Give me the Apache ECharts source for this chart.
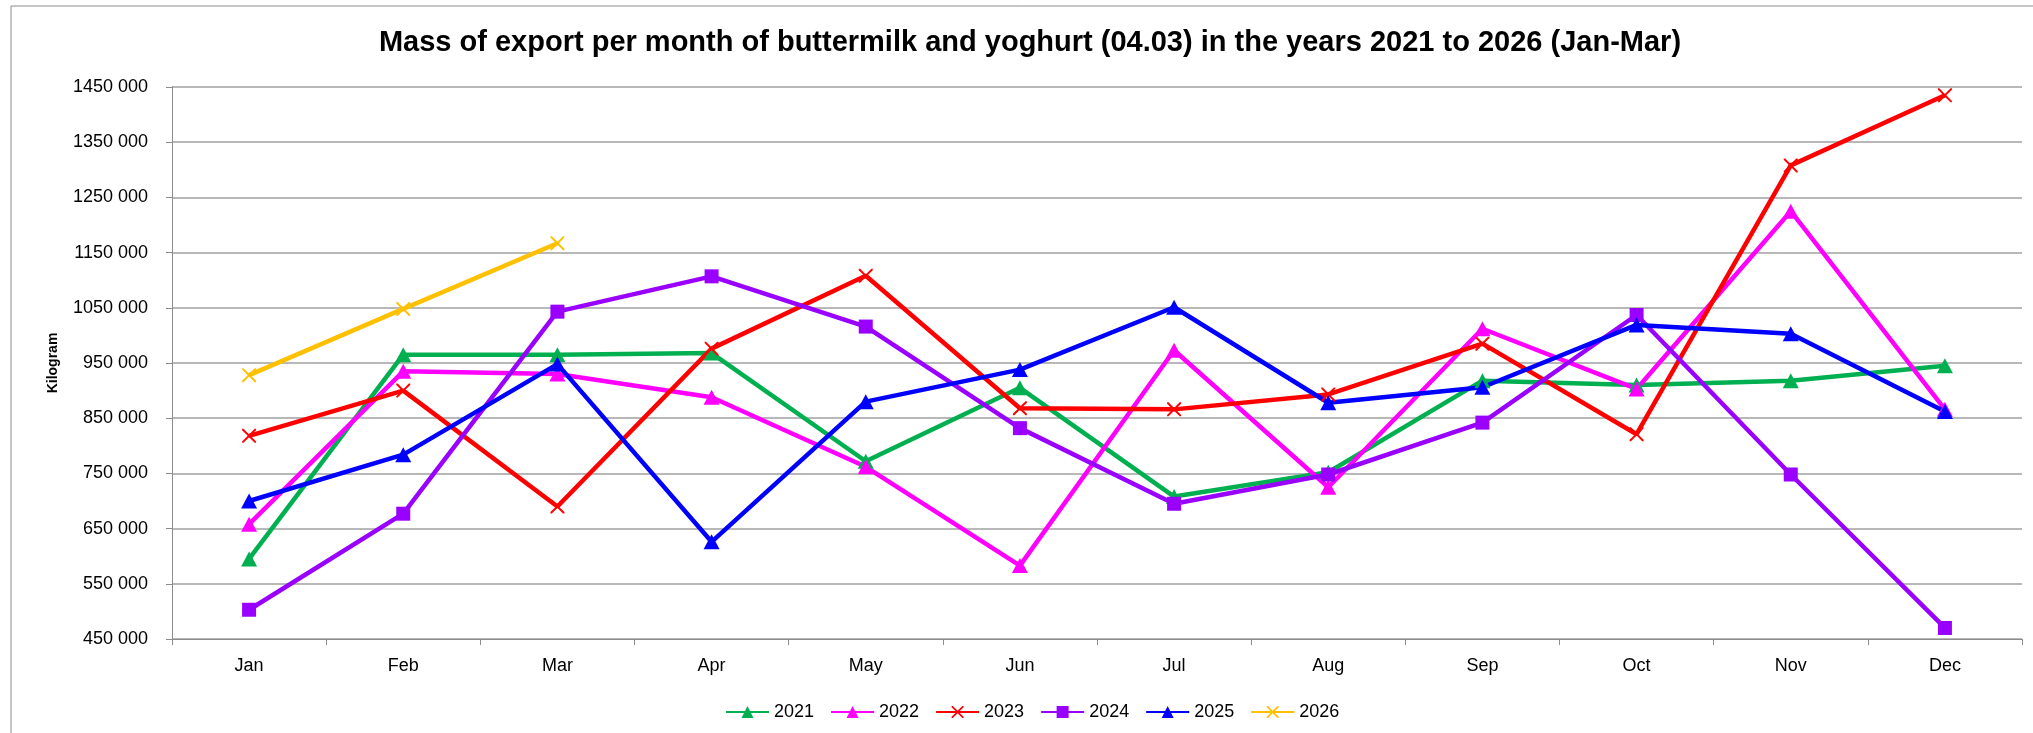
<!DOCTYPE html>
<html>
<head>
<meta charset="utf-8">
<script src="https://cdn.jsdelivr.net/npm/echarts@6/dist/echarts.min.js"></script>
<style>
  html, body { margin: 0; padding: 0; background: #fff; }
  #main { width: 2033px; height: 733px; }
</style>
</head>
<body>
<div id="main"></div>
<script>
// months on the x axis
const months = ['Jan', 'Feb', 'Mar', 'Apr', 'May', 'Jun', 'Jul', 'Aug', 'Sep', 'Oct', 'Nov', 'Dec'];

// kilogram per month
const y2021 = [595000, 965000, 965000, 968000, 772000, 905000, 708000, 752000, 918000, 910000, 918000, 945000];
const y2022 = [658000, 935000, 930000, 888000, 762000, 583000, 973000, 725000, 1012000, 903000, 1225000, 866000];
const y2023 = [818000, 900000, 690000, 976000, 1108000, 868000, 866000, 893000, 985000, 821000, 1308000, 1435000];
const y2024 = [503000, 677000, 1043000, 1107000, 1016000, 832000, 695000, 748000, 842000, 1037000, 748000, 470000];
const y2025 = [700000, 784000, 948000, 626000, 880000, 938000, 1051000, 878000, 906000, 1019000, 1003000, 862000];
const y2026 = [928000, 1048000, 1167000];

const FONT = 'Liberation Sans';
// thin x used by Excel for 2023 / 2026
const crossPath = 'path://M0,0 L1,0 L5,4 L9,0 L10,0 L10,1 L6,5 L10,9 L10,10 L9,10 L5,6 L1,10 L0,10 L0,9 L4,5 L0,1 Z';

function fmt(v) {
    const k = Math.floor(v / 1000);
    const r = String(v % 1000).padStart(3, '0');
    return k + ' ' + r;
}

function mk(name, data, color, symbol, size) {
    return {
        name: name,
        type: 'line',
        data: data,
        symbol: symbol,
        symbolSize: size,
        showAllSymbol: true,
        lineStyle: { color: color, width: 4.5 },
        itemStyle: { color: color },
        emphasis: { disabled: true }
    };
}

const chart = echarts.init(document.getElementById('main'), null, { renderer: 'canvas' });

const option = {
    animation: false,
    backgroundColor: '#fff',
    title: {
        text: 'Mass of export per month of buttermilk and yoghurt (04.03) in the years 2021 to 2026 (Jan-Mar)',
        left: 1030,
        textAlign: 'center',
        top: 28,
        padding: 0,
        textStyle: { fontFamily: FONT, fontWeight: 'bold', fontSize: 29, color: '#000' }
    },
    graphic: [{
        type: 'rect',
        shape: { x: 11, y: 6, width: 2100, height: 800 },
        style: { fill: 'none', stroke: '#8c8c8c', lineWidth: 1 },
        silent: true
    }],
    legend: {
        left: 720,
        top: 698,
        itemWidth: 43,
        itemHeight: 15,
        itemGap: 16,
        textStyle: { fontFamily: FONT, fontSize: 18, color: '#000' },
        data: ['2021', '2022', '2023', '2024', '2025', '2026']
    },
    grid: { left: 172, right: 11, top: 87, bottom: 94, containLabel: false },
    xAxis: {
        type: 'category',
        data: months,
        boundaryGap: true,
        axisLine: { lineStyle: { color: '#8c8c8c', width: 1 } },
        axisTick: { show: true, length: 6, interval: 0, lineStyle: { color: '#8c8c8c' } },
        axisLabel: { fontFamily: FONT, fontSize: 18, color: '#000', margin: 18, interval: 0 }
    },
    yAxis: {
        type: 'value',
        min: 450000,
        max: 1450000,
        interval: 100000,
        name: 'Kilogram',
        nameLocation: 'middle',
        nameRotate: 90,
        nameGap: 112,
        nameTextStyle: { fontFamily: FONT, fontWeight: 'bold', fontSize: 14, color: '#000' },
        axisLine: { show: true, lineStyle: { color: '#8c8c8c', width: 1 } },
        axisTick: { show: true, length: 6, lineStyle: { color: '#8c8c8c' } },
        axisLabel: { fontFamily: FONT, fontSize: 18, color: '#000', margin: 24, formatter: fmt },
        splitLine: { show: true, lineStyle: { color: '#a0a0a0', width: 1.5 } }
    },
    series: [
        mk('2021', y2021, '#00B050', 'triangle', [16, 15]),
        mk('2022', y2022, '#FF00FF', 'triangle', [16, 15]),
        mk('2023', y2023, '#FF0000', crossPath, [14, 14]),
        mk('2024', y2024, '#9900FF', 'rect', [14, 14]),
        mk('2025', y2025, '#0000FF', 'triangle', [16, 15]),
        mk('2026', y2026, '#FFC000', crossPath, [14, 14])
    ]
};

chart.setOption(option);
</script>
</body>
</html>
